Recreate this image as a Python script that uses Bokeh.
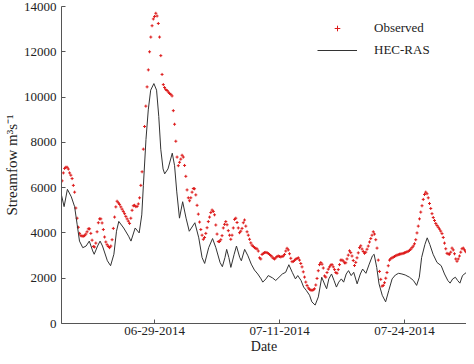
import numpy as np
from bokeh.plotting import figure
from bokeh.models import ColumnDataSource, FixedTicker, Legend, LegendItem, Range1d
from bokeh.embed import file_html
from bokeh.resources import INLINE

# ---- data (x in days relative to 06-29-2014) ----
obs_start_day = -9.25
obs_step_day = 0.125
obs_flow = [
    6300, 6650, 6850, 6900, 6900, 6820, 6650, 6550, 6400, 6100,
    5800, 5100, 4650, 4250, 3980, 3880, 3860, 3860, 3880, 3950,
    4050, 4180, 4180, 3980, 3680, 3400, 3380, 3550, 4050, 4450,
    4620, 4620, 4440, 4150, 3820, 3600, 3480, 3400, 3350, 3420,
    3700, 4200, 4700, 5150, 5400, 5330, 5260, 5150, 5050, 4950,
    4850, 4730, 4620, 4520, 4420, 4650, 5000, 5200, 5220, 5160,
    5170, 5280, 5550, 6100, 6700, 7700, 8700, 9600, 10450, 11200,
    12000, 12650, 13150, 13450, 13560, 13700, 13580, 13250, 12650, 11830,
    11000, 10550, 10420, 10330, 10290, 10220, 10160, 10120, 10050, 9400,
    8800, 8050, 7350, 6970, 7120, 7260, 7430, 7350, 6980, 6500,
    5900, 5550, 5420, 5550, 5800, 5960, 5950, 5680, 5220, 4830,
    4480, 4150, 3900, 3720, 3800, 3980, 4230, 4500, 4700, 4900,
    5010, 4950, 4800, 4350, 3950, 3620, 3620, 3700, 3880, 4220,
    4380, 4500, 4360, 4100, 3900, 3720, 3900, 4220, 4600, 4650,
    4460, 4220, 4010, 4080, 4200, 4450, 4570, 4300, 4050, 3900,
    3720, 3560, 3460, 3400, 3350, 3320, 3290, 3200, 2900, 2850,
    3050, 3100, 3130, 3140, 3130, 3090, 3050, 3000, 2940, 2880,
    2850, 2900, 2960, 2980, 2960, 2940, 2960, 2980, 3050, 3200,
    3320, 3250, 3080, 2880, 2730, 2740, 2790, 2840, 2870, 2900,
    2800, 2650, 2500, 2280, 2050, 1830, 1680, 1570, 1510, 1480,
    1465, 1490, 1530, 1700, 1990, 2330, 2600, 2690, 2620, 2450,
    2100, 2050, 2250, 2400, 2500, 2580, 2600, 2500, 2380, 2250,
    2220, 2380, 2600, 2800, 2800, 2760, 2680, 2680, 2850, 3020,
    3210, 3130, 2980, 2780, 2560, 2700, 2900, 3120, 3350, 3430,
    3290, 3180, 3100, 3150, 3280, 3420, 3600, 3750, 3900, 4050,
    3950, 3700, 3330, 2800, 2300, 1950, 1650, 1680, 1800, 2000,
    2250, 2550, 2800, 2860, 2900, 2930, 2960, 2990, 3020, 3040,
    3060, 3070, 3085, 3100, 3120, 3140, 3170, 3190, 3230, 3280,
    3350, 3420, 3520, 3700, 4000, 4300, 4620, 4920, 5200, 5480,
    5700, 5800, 5730, 5550, 5300, 5080, 4850, 4680, 4550, 4420,
    4330, 4250, 4170, 4080, 3970, 3800, 3550, 3300, 3100, 3070,
    3060, 3150, 3330, 3250, 3080, 2850, 2750, 2850, 2980, 3150,
    3300, 3330, 3250, 3170,
]

sim_day = [
    -9.31, -9.05, -8.72, -8.33, -8.00, -7.74, -7.51, -7.18, -6.85, -6.53,
    -6.19, -6.04, -5.70, -5.45, -5.21, -4.72, -4.40, -4.07, -3.81, -3.58,
    -3.09, -2.60, -2.36, -1.94, -1.54, -1.28, -1.12, -0.86, -0.63, -0.39,
    -0.07, 0.20, 0.42, 0.62, 0.85, 1.01, 1.34, 1.77, 2.00, 2.22,
    2.49, 2.81, 3.15, 3.47, 4.03, 4.42, 4.75, 5.01, 5.41, 5.80,
    6.13, 6.55, 6.78, 7.04, 7.21, 7.43, 7.63, 7.96, 8.19, 8.52,
    8.68, 9.01, 9.34, 9.67, 9.99, 10.32, 10.65, 10.82, 11.14, 11.37,
    11.80, 12.12, 12.45, 12.78, 13.11, 13.43, 13.77, 14.09, 14.32, 14.65,
    14.91, 15.17, 15.50, 15.73, 16.06, 16.38, 16.72, 17.04, 17.21, 17.43,
    17.70, 17.95, 18.19, 18.42, 18.68, 18.91, 19.17, 19.40, 19.67, 19.92,
    20.26, 20.58, 20.81, 21.14, 21.47, 21.79, 21.96, 22.22, 22.45, 22.77,
    23.11, 23.43, 23.76, 24.09, 24.41, 24.74, 25.07, 25.50, 25.89, 26.21,
    26.48, 26.71, 27.04, 27.27, 27.53, 27.86, 28.25, 28.67, 29.00, 29.33,
    29.56, 29.82, 30.09, 30.31, 30.54, 30.80, 31.20,
]
sim_flow = [
    5665, 5161, 5926, 5596, 5161, 4361, 3639, 3348, 3422, 3639,
    3204, 3057, 3422, 3639, 3422, 2770, 2552, 3057, 4074, 4509,
    4218, 3857, 3639, 4218, 4000, 4796, 6100, 8131, 9435, 10305,
    10596, 10305, 9143, 7696, 6826, 6609, 6826, 7522, 6970, 5813,
    4652, 5378, 4652, 4074, 4450, 3783, 2913, 2652, 3348, 3752,
    3348, 2696, 2509, 2913, 3274, 2913, 2478, 3057, 3422, 2913,
    2770, 3274, 2987, 2622, 2361, 2187, 1970, 1826, 1970, 2117,
    2013, 1900, 2043, 2187, 2261, 2596, 2261, 1970, 2117, 1900,
    1609, 1465, 1248, 957, 813, 1174, 2043, 1700, 1535, 1970,
    2187, 1900, 1609, 1826, 1970, 1826, 2187, 2335, 2117, 2261,
    1752, 2187, 2404, 2217, 2622, 2987, 3057, 2478, 1752, 1248,
    957, 1465, 1970, 2143, 2217, 2187, 2143, 2043, 1900, 1683,
    2043, 2913, 3491, 3783, 3491, 3057, 2696, 2552, 2187, 1900,
    1783, 1970, 2043, 1900, 1783, 2117, 2261,
]

tick_days = [0, 12.5, 25]
tick_labels = ["06-29-2014", "07-11-2014", "07-24-2014"]
y_ticks = [0, 2000, 4000, 6000, 8000, 10000, 12000, 14000]
series_names = ["Observed", "HEC-RAS"]

obs_day = obs_start_day + obs_step_day * np.arange(len(obs_flow))

FONT = "Liberation Serif"
TXT = "#222222"
AX = "#555555"

p = figure(width=466, height=356, output_backend="svg", toolbar_location=None,
           x_range=Range1d(-9.31, 31.2), y_range=Range1d(0, 14000),
           min_border_left=54, min_border_right=0, min_border_top=6, min_border_bottom=0)
p.outline_line_color = None
p.grid.visible = False
p.background_fill_color = "white"

obs_src = ColumnDataSource(dict(x=obs_day, y=obs_flow))
sim_src = ColumnDataSource(dict(x=sim_day, y=sim_flow))

r_obs = p.scatter("x", "y", source=obs_src, marker="cross", size=3,
                  line_color="#dd1a1a", line_width=1)
r_sim = p.line("x", "y", source=sim_src, line_color="#333333", line_width=1)

xa = p.xaxis[0]
xa.ticker = FixedTicker(ticks=tick_days)
xa.major_label_overrides = {t: l for t, l in zip(tick_days, tick_labels)}
xa.minor_tick_line_color = None
xa.major_tick_in = 4
xa.major_tick_out = 0
xa.major_label_standoff = 3
xa.axis_label = "Date"
xa.axis_label_standoff = 1
xa.axis_label_text_font = FONT
xa.axis_label_text_font_style = "normal"
xa.axis_label_text_font_size = "14px"
xa.axis_label_text_color = TXT
xa.major_label_text_font = FONT
xa.major_label_text_font_size = "13px"
xa.major_label_text_color = TXT
xa.axis_line_color = AX
xa.major_tick_line_color = AX

ya = p.yaxis[0]
ya.ticker = FixedTicker(ticks=y_ticks)
ya.minor_tick_line_color = None
ya.major_tick_in = 4
ya.major_tick_out = 0
ya.major_label_standoff = 5
ya.axis_label = "Streamfow m³s⁻¹"
ya.axis_label_standoff = 1
ya.axis_label_text_font = FONT
ya.axis_label_text_font_style = "normal"
ya.axis_label_text_font_size = "15px"
ya.axis_label_text_color = TXT
ya.major_label_text_font = FONT
ya.major_label_text_font_size = "13px"
ya.major_label_text_color = TXT
ya.axis_line_color = AX
ya.major_tick_line_color = AX

legend = Legend(items=[LegendItem(label=series_names[0], renderers=[r_obs]),
                       LegendItem(label=series_names[1], renderers=[r_sim])],
                location=(256, 265), orientation="vertical",
                glyph_width=40, glyph_height=14, label_height=14, label_standoff=17,
                spacing=6, padding=0, margin=0,
                border_line_color=None, background_fill_alpha=0,
                label_text_font=FONT, label_text_font_size="13px", label_text_color=TXT)
p.add_layout(legend, "center")

open("out.html", "w").write(file_html(p, INLINE))
